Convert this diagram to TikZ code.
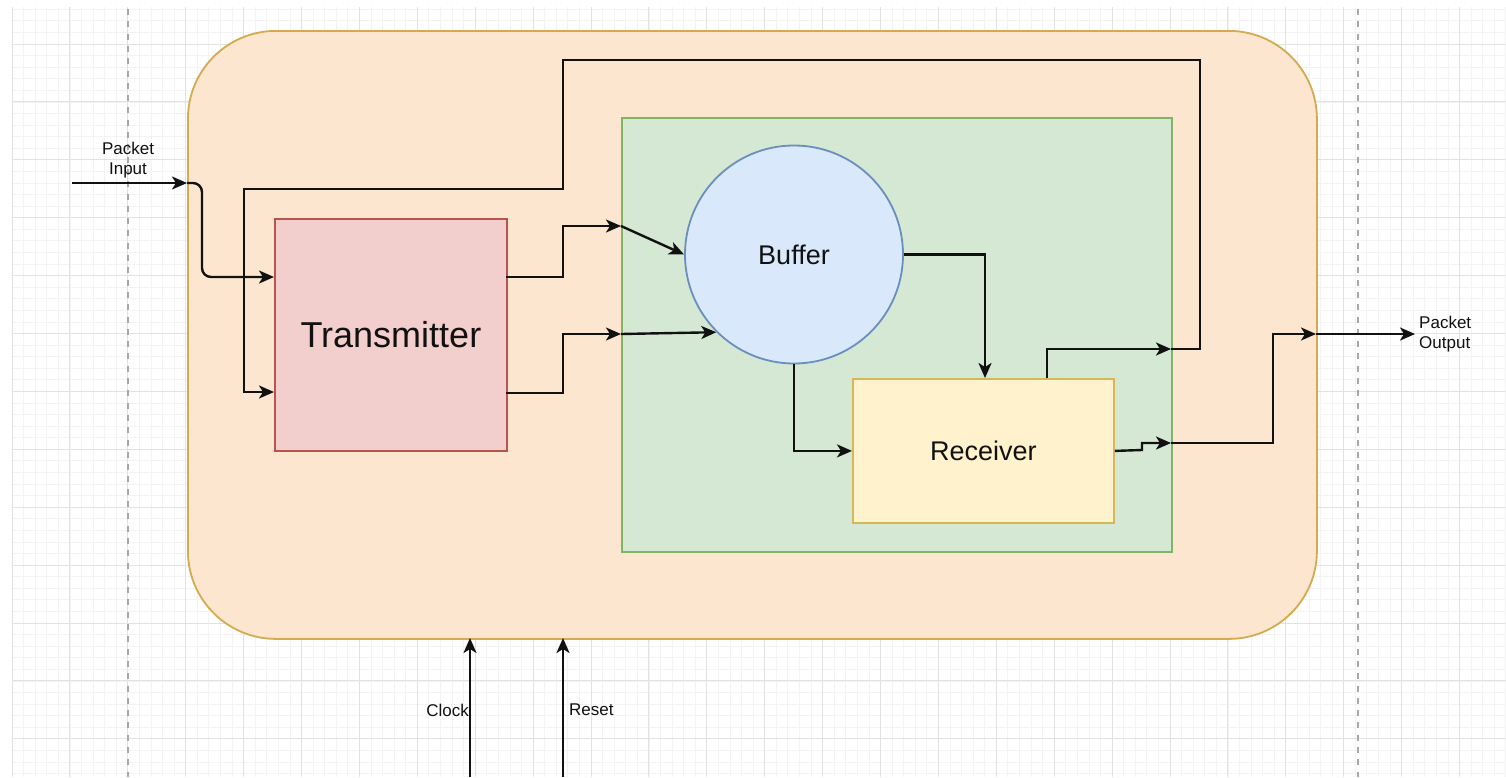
\documentclass[tikz,border=0pt]{standalone}
\usepackage{fontspec}
\setmainfont{Liberation Sans}
\usetikzlibrary{arrows.meta,calc}
\definecolor{gridminor}{HTML}{F3F3F3}
\definecolor{gridmajor}{HTML}{E2E2E2}
\definecolor{guide}{HTML}{A8A8A8}
\definecolor{sysfill}{HTML}{FCE6CF}
\definecolor{sysdraw}{HTML}{D4AA4E}
\definecolor{corefill}{HTML}{D5E8D4}
\definecolor{coredraw}{HTML}{82B366}
\definecolor{txfill}{HTML}{F2CECC}
\definecolor{txdraw}{HTML}{B85450}
\definecolor{buffill}{HTML}{DAE8FC}
\definecolor{bufdraw}{HTML}{6C8EBF}
\definecolor{rxfill}{HTML}{FFF2CC}
\definecolor{rxdraw}{HTML}{D6B656}
\definecolor{ink}{HTML}{111111}
\begin{document}
\begin{tikzpicture}[x=1pt,y=-1pt,
  minorline/.style={gridminor, line width=0.8pt},
  majorline/.style={gridmajor, line width=1pt},
  guideline/.style={guide, line width=1.8pt, dash pattern=on 6pt off 6.3pt},
  box/.style={draw, line width=1.8pt, inner sep=0pt, anchor=north west},
  wire/.style={ink, line width=2.4pt},
  arr/.style={wire, -{Stealth[length=15pt,width=13pt,inset=4pt]}},
  lbl/.style={text=ink, font=\fontsize{17}{20}\selectfont, inner sep=0pt},
  big/.style={text=ink, font=\fontsize{27}{30}\selectfont},
]
\useasboundingbox (0,0) rectangle (1506,777);
\fill[white] (0,0) rectangle (1506,777);
% grid
\begin{scope}
\clip (12,7) rectangle (1506,777);
\foreach \i in {0,...,129} \draw[minorline] ({12+\i*11.58},7) -- ({12+\i*11.58},777);
\foreach \j in {0,...,66} \draw[minorline] (12,{9.26+\j*11.58}) -- (1506,{9.26+\j*11.58});
\foreach \i in {0,...,25} \draw[majorline] ({12+\i*57.9},7) -- ({12+\i*57.9},777);
\foreach \j in {0,...,13} \draw[majorline] (12,{-13.9+\j*57.9}) -- (1506,{-13.9+\j*57.9});
\end{scope}
\draw[guideline] (128,9) -- (128,777);
\draw[guideline] (1358,9) -- (1358,777);

% shapes
\node[box, draw=sysdraw, fill=sysfill, rounded corners=88pt,
      minimum width=1129pt, minimum height=608pt] (sys) at (187,30) {};
\node[box, draw=coredraw, fill=corefill,
      minimum width=550pt, minimum height=434pt] (core) at (621,117) {};
\node[box, draw=txdraw, fill=txfill, minimum width=232pt, minimum height=232pt] (tx) at (274,218) {};
\node[text=ink, font=\fontsize{36}{40}\selectfont] at (tx.center) {Transmitter};
\node[circle, draw=bufdraw, fill=buffill, line width=1.8pt, minimum size=218pt,
      inner sep=0pt, big] (buf) at (794,254.5) {Buffer};
\node[box, draw=rxdraw, fill=rxfill, minimum width=261pt, minimum height=144pt] (rx) at (852,378) {};
\node[big] at (rx.center) {Receiver};

% named junction points
\coordinate (inStart) at (72,183);
\coordinate (pin) at (187,183);
\coordinate (txIn1) at (274,277);
\coordinate (txIn2) at (274,392);
\coordinate (txOut1) at (506,277);
\coordinate (txOut2) at (506,393);
\coordinate (cIn1) at (621,226);
\coordinate (cIn2) at (621,334);
\coordinate (rxTop1) at (985,378);
\coordinate (rxTop2) at (1047,378);
\coordinate (cFb) at (1171,349);
\coordinate (cOut) at (1171,443);
\coordinate (pout) at (1316,334);
\coordinate (outEnd) at (1415,334);
\coordinate (clkStart) at (470,777);
\coordinate (clkEnd) at (470,638);
\coordinate (rstStart) at (563,777);
\coordinate (rstEnd) at (563,638);

% connectors
\draw[arr] (inStart) -- (pin);
\draw[arr, rounded corners=9pt] (pin) -- (202,183) -- (202,277) -- (txIn1);
\draw[arr] (txOut1) -- (563,277) -- (563,226) -- (cIn1);
\draw[arr] (txOut2) -- (563,393) -- (563,334) -- (cIn2);
\draw[arr] (cIn1) -- (buf.west);
\draw[arr] (cIn2) -- (buf.225);
\draw[arr] (buf.east) -| (rxTop1);
\draw[arr] (buf.south) |- (rx.west);
\draw[arr] (rxTop2) -- (1047,349) -- (cFb);
\draw[arr] (cFb) -- (1200,349) -- (1200,60) -- (563,60) -- (563,189) -- (244,189) -- (244,392) -- (txIn2);
\draw[arr] (rx.east) -- (1142,450) -- (1142,443) -- (cOut);
\draw[arr] (cOut) -- (1273,443) -- (1273,334) -- (pout);
\draw[arr] (pout) -- (outEnd);
\draw[arr] (clkStart) -- (clkEnd);
\draw[arr] (rstStart) -- (rstEnd);

% labels
\node[lbl, align=center] (inLbl) at (128,160) {Packet\\Input};
\node[lbl, align=left, anchor=west] (outLbl) at (1419,334) {Packet\\Output};
\node[lbl, anchor=east] (clkLbl) at (469,710) {Clock};
\node[lbl, anchor=west] (rstLbl) at (569,710) {Reset};
\end{tikzpicture}
\end{document}
